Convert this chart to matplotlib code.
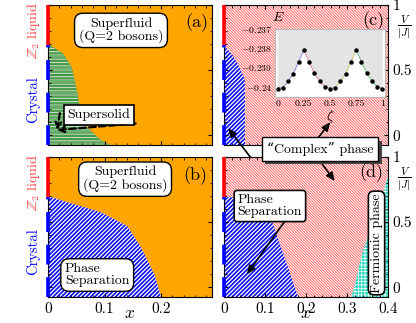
import numpy as np
import matplotlib
matplotlib.use("Agg")
import matplotlib.pyplot as plt
from matplotlib.ticker import MultipleLocator, FixedLocator
from matplotlib import transforms, patheffects

plt.rcParams['font.family'] = ['cmr10', 'DejaVu Serif']
plt.rcParams['mathtext.fontset'] = 'cm'
plt.rcParams['axes.formatter.use_mathtext'] = True
plt.rcParams['axes.unicode_minus'] = True

# ---------------- data ----------------
# (a) supersolid boundary: V values and x boundary
ss_V = [0.70, 0.626, 0.52, 0.345, 0.19, 0.064, -0.038, -0.075]
ss_x = [0.0, 0.027, 0.042, 0.051, 0.057, 0.069, 0.093, 0.11]
# (b) phase separation boundary
psb_V = [0.70, 0.654, 0.577, 0.47, 0.31, 0.10, -0.075]
psb_x = [0.0, 0.033, 0.093, 0.14, 0.164, 0.188, 0.2]
# (c) phase separation boundary
psc_V = [0.69, 0.62, 0.54, 0.45, 0.42, -0.075]
psc_x = [0.0, 0.02, 0.035, 0.048, 0.051, 0.051]
# (d) phase separation boundary
psd_V = [0.69, -0.075]
psd_x = [0.097, 0.181]
# (d) fermionic phase boundary
fer_V = [-0.075, 0.0, 0.25, 0.55, 0.85]
fer_x = [0.31, 0.318, 0.336, 0.37, 0.40]
# phase bars on the V axis
V_transition = 0.69
# inset: energy vs zeta
zeta = [0.0, 0.05, 0.1, 0.15, 0.2, 0.25, 0.3, 0.35, 0.4, 0.45, 0.5,
        0.55, 0.6, 0.65, 0.7, 0.75, 0.8, 0.85, 0.9, 0.95, 1.0]
energy = [-0.2401, -0.24005, -0.23972, -0.23932, -0.2387, -0.23809,
          -0.2387, -0.2393, -0.2397, -0.2400, -0.2401,
          -0.24005, -0.23972, -0.23932, -0.2387, -0.23809,
          -0.2387, -0.2393, -0.2397, -0.2400, -0.2401]
seg_colors = ['#9a9ae0', '#e090b0', '#d0d080', '#80c090']
left_xticks = [0, 0.1, 0.2]
right_xticks = [0, 0.1, 0.2, 0.3, 0.4]
right_yticks = [0, 0.5, 1]
inset_yticks = [-0.237, -0.238, -0.239, -0.24]
inset_ytl = ['$-0.237$', '$-0.238$', '$-0.239$', '$-0.24$']
inset_xticks = [0, 0.25, 0.5, 0.75, 1]
inset_xtl = ['0', '0.25', '0.5', '0.75', '1']

YLIM = (-0.075, 1.0)
ORANGE = '#FFA500'

W, H = 416, 323
fig = plt.figure(figsize=(W / 100, H / 100), dpi=100)


def px_axes(x0, y0, x1, y1):
    return fig.add_axes([x0 / W, 1 - y1 / H, (x1 - x0) / W, (y1 - y0) / H])


axa = px_axes(48, 5, 212, 145)
axb = px_axes(48, 157, 212, 297)
axc = px_axes(224, 5, 388, 145)
axd = px_axes(224, 157, 388, 297)


def hatch_lw(artist, lw):
    if hasattr(artist, 'set_hatch_linewidth'):
        artist.set_hatch_linewidth(lw)


RED_H = '\\' * 12
BLUE_H = '/' * 8
GREEN_H = '-' * 6

for ax in (axa, axb, axc, axd):
    ax.set_ylim(*YLIM)
    ax.tick_params(direction='in', top=True, right=True, which='both',
                   labelsize=11, length=3)
    ax.tick_params(which='minor', length=1.8)
    ax.yaxis.set_minor_locator(MultipleLocator(0.1))
    ax.xaxis.set_minor_locator(MultipleLocator(0.02))

for ax in (axa, axb):
    ax.set_xlim(0, 0.29)
    ax.set_facecolor(ORANGE)
    ax.xaxis.set_major_locator(FixedLocator(left_xticks))
    ax.yaxis.set_major_locator(FixedLocator(right_yticks))
    ax.tick_params(labelleft=False)
for ax in (axc, axd):
    ax.set_xlim(0, 0.4)
    ax.xaxis.set_major_locator(FixedLocator(right_xticks))
    ax.yaxis.set_major_locator(FixedLocator(right_yticks))
    ax.tick_params(labelleft=False, labelright=True)
    ax.set_yticklabels(['0', '0.5', '1'])
    # red hatched background
    p = ax.fill_between([0, 0.4], YLIM[0], YLIM[1], facecolor='white',
                        edgecolor='#ff6a6a', hatch=RED_H, linewidth=0, zorder=0)
    hatch_lw(p, 0.7)
    ax.text(1.1, 0.845, r'$\frac{V}{|J|}$', transform=ax.transAxes,
            ha='center', va='center', fontsize=11.5)

for ax in (axa, axc):
    ax.tick_params(labelbottom=False)
axb.set_xticklabels(['0', '0.1', '0.2'])
axd.set_xticklabels(['0', '0.1', '0.2', '0.3', '0.4'])
for ax in (axb, axd):
    lab = ax.set_xlabel('$x$', fontsize=12.5)
    lab.set_verticalalignment('bottom')
    ax.xaxis.set_label_coords(0.5, -0.168)

# ---- (a) supersolid region
p = axa.fill_betweenx(ss_V, 0, ss_x, facecolor='#66bb66', edgecolor='#005a00',
                      hatch=GREEN_H, linewidth=0, zorder=1)
hatch_lw(p, 1.1)
p = axa.fill_betweenx(ss_V, 0, ss_x, facecolor='none', edgecolor='white',
                      hatch=GREEN_H, linewidth=0, zorder=1.1)
hatch_lw(p, 0.55)

# ---- phase separation regions
for ax, V, xb in ((axb, psb_V, psb_x), (axc, psc_V, psc_x), (axd, psd_V, psd_x)):
    p = ax.fill_betweenx(V, 0, xb, facecolor='white', edgecolor='#0c0cf0',
                         hatch=BLUE_H, linewidth=0, zorder=1)
    hatch_lw(p, 1.2)
# ---- fermionic region
p = axd.fill_betweenx(fer_V, fer_x, 0.4, facecolor='#30d8c0', edgecolor='white',
                      hatch='+' * 5, linewidth=0, zorder=1)
hatch_lw(p, 0.5)

# ---- phase bars along V axis
for ax in (axa, axb, axc, axd):
    ax.plot([0, 0], [V_transition, YLIM[1]], color='red', lw=2.6,
            clip_on=False, zorder=5, solid_capstyle='butt')
    ax.plot([0, 0], [YLIM[0], V_transition], color='blue', lw=2.6,
            clip_on=False, zorder=5, dashes=(5.5, 3.5), dash_capstyle='butt')
for ax in (axa, axb):
    tr = transforms.blended_transform_factory(ax.transAxes, ax.transData)
    ax.text(-0.09, 0.27, 'Crystal', color='blue', rotation=90, ha='center',
            va='center', fontsize=10.5, transform=tr)
    ax.text(-0.09, 0.8, r'$\mathbb{Z}_2$ liquid', color='#ff4040', rotation=90,
            ha='center', va='center', fontsize=10, transform=tr)

# ---- labels and boxes
round_box = dict(boxstyle='round,pad=0.3,rounding_size=0.6', facecolor='white',
                 edgecolor='black', lw=1.0)
sq_box = dict(boxstyle='square,pad=0.25', facecolor='white', edgecolor='black', lw=1.2)

axa.text(0.445, 0.82, 'Superfluid\n(Q=2 bosons)', transform=axa.transAxes,
         ha='center', va='center', fontsize=10, linespacing=1.0, bbox=round_box, zorder=10)
axb.text(0.47, 0.843, 'Superfluid\n(Q=2 bosons)', transform=axb.transAxes,
         ha='center', va='center', fontsize=10, linespacing=1.0, bbox=round_box, zorder=10)
axb.text(0.3, 0.157, 'Phase\nSeparation', transform=axb.transAxes,
         ha='center', va='center', fontsize=10, linespacing=1.0, multialignment='left',
         bbox=round_box, zorder=10)
axd.text(0.28, 0.65, 'Phase\nSeparation', transform=axd.transAxes,
         ha='center', va='center', fontsize=10, linespacing=1.0, multialignment='left',
         bbox=dict(boxstyle='round,pad=0.25,rounding_size=0.2', facecolor='white',
                   edgecolor='black', lw=1.2), zorder=10)
axd.text(0.93, 0.386, 'Fermionic phase', transform=axd.transAxes, rotation=90,
         ha='center', va='center', fontsize=10,
         bbox=dict(boxstyle='round,pad=0.15,rounding_size=0.4', facecolor='white',
                   edgecolor='black', lw=1.2), zorder=10)
axa.text(0.31, 0.214, 'Supersolid', transform=axa.transAxes, ha='center', va='center',
         fontsize=10, bbox=sq_box, zorder=10)

for ax, lab, (lx, ly) in ((axa, '(a)', (0.905, 0.875)), (axb, '(b)', (0.9, 0.87)),
                          (axc, '(c)', (0.91, 0.89)), (axd, '(d)', (0.9, 0.886))):
    ax.text(lx, ly, lab, transform=ax.transAxes, ha='center', va='center',
            fontsize=13, zorder=10)

# supersolid dashed arrows
for start in ((0.021, 0.17), (0.155, 0.09)):
    axa.annotate('', xy=(0.016, 0.04), xytext=start, zorder=9,
                 arrowprops=dict(arrowstyle='->', lw=1.6, linestyle=(0, (3, 1.5)),
                                 color='black', shrinkA=0, shrinkB=0))

# "Complex" phase box with shadow
cx, cy = 320 / W, 1 - 149 / H
ctext = fig.text(cx, cy, '“Complex” phase', ha='center', va='center', fontsize=10,
                 bbox=dict(boxstyle='square,pad=0.35', facecolor='white',
                           edgecolor='black', lw=1.0), zorder=20)
ctext.get_bbox_patch().set_path_effects([
    patheffects.SimplePatchShadow(offset=(2.5, -2.5), shadow_rgbFace='#444444', alpha=1.0),
    patheffects.Normal()])

arrow_kw = dict(arrowstyle='-|>,head_length=0.5,head_width=0.22', lw=1.2,
                color='black', shrinkA=0, shrinkB=0)
# complex -> (c)
axc.annotate('', xy=(0.259, 0.10), xytext=(318 / W, 1 - 138 / H),
             textcoords='figure fraction', arrowprops=arrow_kw, zorder=9,
             annotation_clip=False)
# complex -> (d)
axd.annotate('', xy=(0.27, 0.815), xytext=(320 / W, 1 - 161 / H),
             textcoords='figure fraction', arrowprops=arrow_kw, zorder=9,
             annotation_clip=False)
# (d) phase separation -> (c) blue region
axc.annotate('', xy=(0.01, 0.054), xytext=(278 / W, 1 - 193 / H),
             textcoords='figure fraction', arrowprops=arrow_kw, zorder=9,
             annotation_clip=False)
# (d) phase separation -> (d) blue region
axd.annotate('', xy=(0.056, 0.10), xytext=(0.149, 0.51), arrowprops=arrow_kw, zorder=9)

# ---- inset
axi = px_axes(275, 29, 385, 97)
axi.set_xlim(-0.025, 1.025)
axi.set_ylim(-0.24054, -0.237)
axi.set_facecolor('white')
axi.fill_between(zeta, energy, -0.237, color='#e4e4e4', lw=0, zorder=0)
for k in range(4):
    sl = slice(5 * k, 5 * k + 6)
    axi.plot(zeta[sl], energy[sl], color=seg_colors[k], lw=0.8, zorder=2)
axi.plot(zeta, energy, 'o', color='black', ms=2.2, zorder=3)
for s in axi.spines.values():
    s.set_color('#bbbbbb')
axi.set_yticks(inset_yticks)
axi.set_yticklabels(inset_ytl)
axi.set_xticks(inset_xticks)
axi.set_xticklabels(inset_xtl)
axi.tick_params(length=0, labelsize=7, pad=2)
for t in axi.get_xticklabels() + axi.get_yticklabels():
    t.set_fontweight('bold')
axi.text(0.03, 1.17, '$E$', transform=axi.transAxes, ha='center', va='center', fontsize=10)
axi.set_xlabel(r'$\zeta$', fontsize=10, labelpad=0)

fig.savefig('out.png', dpi=100, facecolor='white')
